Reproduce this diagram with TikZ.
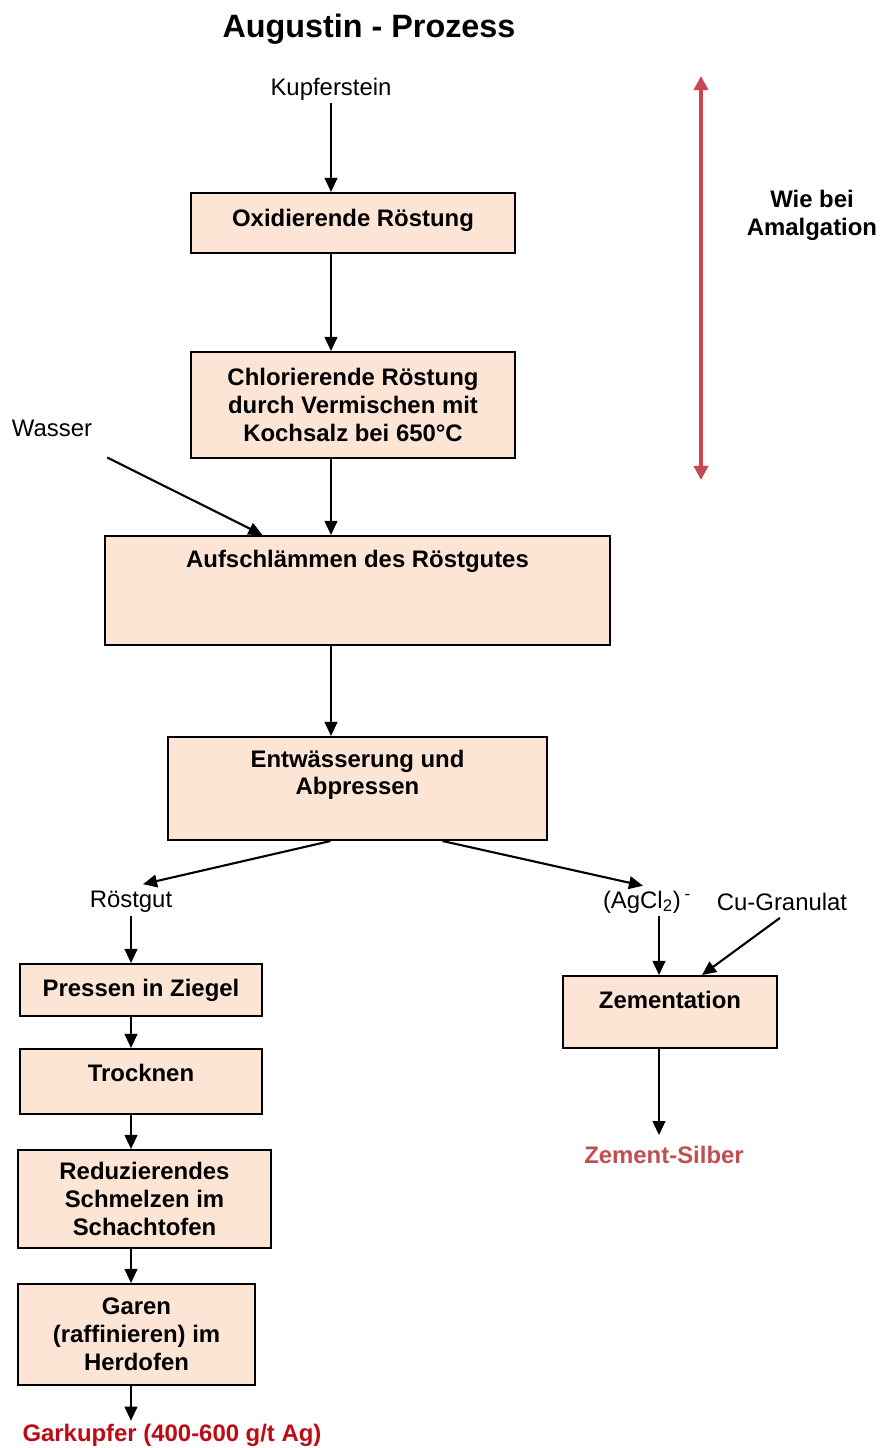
\documentclass[tikz,border=0pt]{standalone}
\usepackage{fontspec}
\setmainfont{Liberation Sans}
\usetikzlibrary{arrows.meta,calc}
\definecolor{boxfill}{RGB}{252,229,213}
\definecolor{amalred}{RGB}{200,72,80}
\definecolor{garred}{RGB}{190,10,20}
\definecolor{silberred}{RGB}{192,80,77}
\tikzset{
	stepbox/.style={draw=black, line width=1.4pt, fill=boxfill, align=center, inner sep=3pt,
		font=\fontsize{17}{19.8}\selectfont\bfseries},
	flow/.style={line width=1.5pt, -{Triangle[length=10pt,width=9pt]}},
	lbl/.style={inner sep=2pt, font=\fontsize{17}{19.8}\selectfont},
	boldlbl/.style={inner sep=2pt, align=center, font=\fontsize{17}{19.8}\selectfont\bfseries},
	amarrow/.style={line width=3pt, color=amalred, {Triangle[length=10pt,width=10pt]}-{Triangle[length=10pt,width=10pt]}}
}

\begin{document}
\begin{tikzpicture}[x=0.025cm, y=-0.025cm]
			%%%%% START %%%%%
			\useasboundingbox (0,0) rectangle (880,1448);
			
			\node[font=\fontsize{23}{26}\selectfont\bfseries] (title) at (369,29) {Augustin - Prozess};
			
			% inputs and labels
			\node[lbl] (kupfer) at (331,89) {Kupferstein};
			\node[lbl] (wasser) at (52,428) {Wasser};
			\node[lbl] (roestgut) at (131,902) {Röstgut};
			\node[lbl] (agcl) at (647,902) {(AgCl\textsubscript{2})\,\textsuperscript{-}};
			\node[lbl] (cugran) at (782,902) {Cu-Granulat};
			\node[boldlbl, color=silberred] (silber) at (664,1155) {Zement-Silber};
			\node[boldlbl, color=garred] (garkupfer) at (172,1435) {Garkupfer (400-600 g/t Ag)};
			\node[boldlbl] (amal) at (812,215) {Wie bei\\Amalgation};
			
			% process steps
			\node[stepbox, minimum width=8.1cm, minimum height=1.5cm, text depth=7pt] (oxi) at (353,223) {Oxidierende Röstung};
			\node[stepbox, minimum width=8.1cm, minimum height=2.65cm] (chlor) at (353,405) {Chlorierende Röstung\\durch Vermischen mit\\Kochsalz bei 650°C};
			\node[stepbox, minimum width=12.625cm, minimum height=2.725cm, text depth=45pt] (schlamm) at (357.5,590.5) {Aufschlämmen des Röstgutes};
			\node[stepbox, minimum width=9.475cm, minimum height=2.575cm, text depth=23pt] (entw) at (357.5,788.5) {Entwässerung und\\Abpressen};
			\node[stepbox, minimum width=6.05cm, minimum height=1.3cm] (ziegel) at (141,990) {Pressen in Ziegel};
			\node[stepbox, minimum width=6.05cm, minimum height=1.625cm, text depth=12pt] (trock) at (141,1081.5) {Trocknen};
			\node[stepbox, minimum width=6.325cm, minimum height=2.45cm] (reduz) at (144.5,1199) {Reduzierendes\\Schmelzen im\\Schachtofen};
			\node[stepbox, minimum width=5.925cm, minimum height=2.525cm] (garen) at (136.5,1334.5) {Garen\\(raffinieren) im\\Herdofen};
			\node[stepbox, minimum width=5.35cm, minimum height=1.8cm, text depth=18pt] (zement) at (670,1012) {Zementation};
			
			% main line
			\draw[flow] (kupfer) -- (kupfer |- oxi.north);
			\draw[flow] (oxi.south -| kupfer) -- (chlor.north -| kupfer);
			\draw[flow] (chlor.south -| kupfer) -- (schlamm.north -| kupfer);
			\draw[flow] ($(wasser.south east)+(12,18)$) -- ($(schlamm.north)+(-95,0)$);
			\draw[flow] (schlamm.south -| kupfer) -- (entw.north -| kupfer);
			
			% split
			\draw[flow] ($(entw.south)+(-27,0)$) -- ($(roestgut.north)+(12,-4)$);
			\draw[flow] ($(entw.south)+(85,0)$) -- ($(agcl.north)+(-4,-2)$);
			
			% left branch
			\draw[flow] (roestgut) -- (roestgut |- ziegel.north);
			\draw[flow] (ziegel.south -| roestgut) -- (trock.north -| roestgut);
			\draw[flow] (trock.south -| roestgut) -- (reduz.north -| roestgut);
			\draw[flow] (reduz.south -| roestgut) -- (garen.north -| roestgut);
			\draw[flow] (garen.south -| roestgut) -- (garkupfer.north -| roestgut);
			
			% right branch
			\draw[flow] ($(agcl.south)+(12,0)$) -- ($(zement.north)+(-11,0)$);
			\draw[flow] ($(cugran.south)+(-2,4)$) -- ($(zement.north)+(32,0)$);
			\draw[flow] ($(zement.south)+(-11,0)$) -- ($(silber.north)+(-5,-8)$);
			
			% same as amalgamation
			\coordinate (amtop) at (701,76);
			\coordinate (ambot) at (701,480);
			\draw[amarrow] (amtop) -- (ambot);
			
			%%%%% END %%%%%
\end{tikzpicture}
\end{document}
